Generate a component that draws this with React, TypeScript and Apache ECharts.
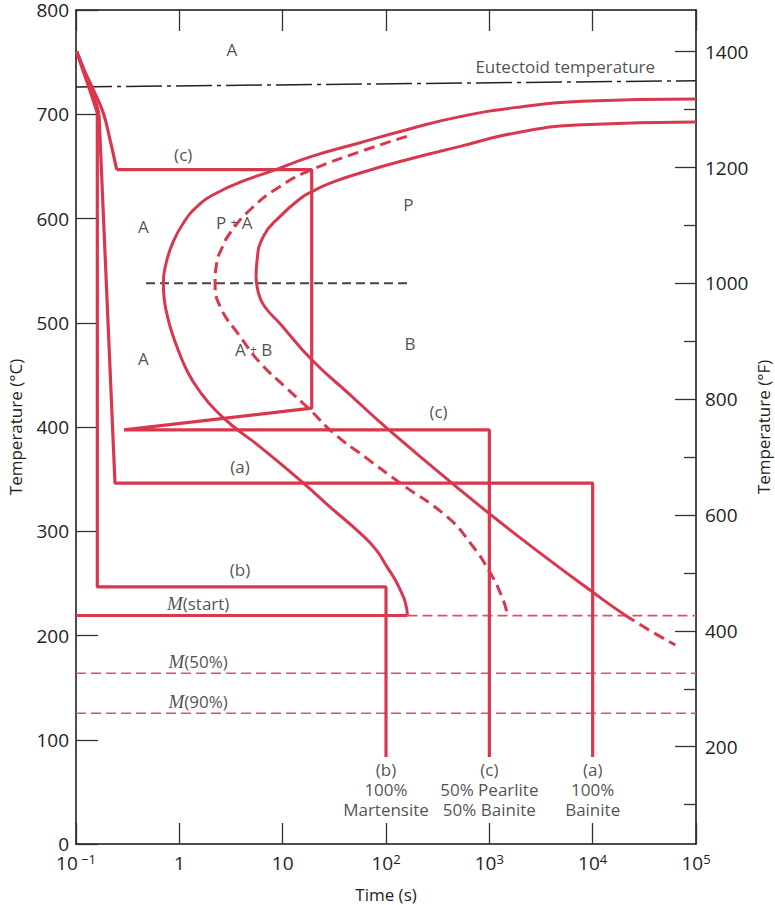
import React, { useEffect, useRef } from 'react';
import * as echarts from 'echarts';

// ---- data (time in s, temperature in °C) ----
const startCurve: [number, number][] = [
  [100000, 714.7], [7870, 712.4], [1991, 707.0], [522, 697.7], [159, 685.2], [56.2, 672.7],
  [19.1, 659.6], [7.56, 644.9], [4.5, 637.2], [2.3, 624.5], [1.52, 612.3], [1.094, 595.7],
  [0.85, 574.9], [0.7435, 556.6], [0.7, 538.1], [0.716, 522.1], [0.755, 509.3], [0.831, 493.3],
  [0.972, 474.1], [1.214, 452.0], [1.587, 433.8], [2.218, 416.5], [3.336, 400.5], [6.05, 381.0],
  [15.88, 346.2], [29.4, 322.5], [56.2, 298.2], [80.3, 282.1], [101.9, 266.1], [122.6, 253.4],
  [140.3, 241.8], [153.3, 232.2], [161.4, 219.8],
];
const finishCurve: [number, number][] = [
  [100000, 692.6], [7870, 690.0], [1781, 682.1], [522, 669.2], [159, 656.4], [56.2, 643.7],
  [28.8, 633.9], [19.14, 625.7], [14.75, 619.0], [9.44, 602.0], [6.51, 582.8], [5.62, 557.3],
  [5.53, 544.4], [5.785, 529.8], [6.61, 516.3], [9.45, 499.0], [19.1, 464.5], [45.0, 430.9],
  [101.9, 398.9], [434, 346.2], [1991, 293.7], [12680, 234.2], [20700, 219.5],
];
const finishTail: [number, number][] = [[20700, 219.5], [34800, 205.4], [63100, 191.0]];
const halfCurve: [number, number][] = [
  [159, 678.8], [56.2, 664.1], [19.1, 646.8], [9.44, 630.8], [4.84, 608.4], [3.1, 586.1],
  [2.593, 572.0], [2.3, 557.3], [2.22, 538.1], [2.48, 515.6], [3.87, 486.9], [6.05, 461.6],
  [10.56, 438.6], [18.4, 416.5], [30.8, 394.4], [64.3, 370.4], [137, 346.2], [388, 314.1],
  [653, 288.9], [1020, 260.1], [1361, 234.2], [1479, 221.7],
];
const coolCTop: [number, number][] = [[0.1016, 760.1], [0.1195, 742.8], [0.1419, 726.8], [0.1837, 701.2], [0.2134, 675.6], [0.2477, 646.8]];
const coolCPath: [number, number][] = [[0.2477, 646.8], [19.1, 646.8], [19.1, 418.1], [0.2916, 397.3], [1000, 397.3], [1000, 83.5]];
const coolATop: [number, number][] = [[0.1016, 760.1], [0.1169, 744.7], [0.1336, 728.4], [0.1528, 714.0], [0.167, 699.6]];
const coolAPath: [number, number][] = [[0.167, 699.6], [0.2385, 346.2], [10000, 346.2], [10000, 83.5]];
const coolBTop: [number, number][] = [[0.1016, 760.1], [0.1143, 744.7], [0.1306, 728.4], [0.1461, 714.0], [0.1608, 701.5]];
const coolBPath: [number, number][] = [[0.1608, 701.5], [0.1608, 246.6], [100, 246.6], [100, 83.5]];
const mStartSolid: [number, number][] = [[0.1, 219.1], [161.4, 219.1]];
const mStartDash: [number, number][] = [[161.4, 219.1], [100000, 219.1]];
const m50: [number, number][] = [[0.1, 163.8], [100000, 163.8]];
const m90: [number, number][] = [[0.1, 125.4], [100000, 125.4]];
const eutectoid: [number, number][] = [[0.1, 726.2], [100000, 732.2]];
const noseLine: [number, number][] = [[0.476, 538], [163.7, 538]];

const labelTexts = [
  'A', 'Eutectoid temperature', '(c)', 'P', 'A', 'P {s|+} A', 'A', 'A {s|+} B', 'B', '(c)',
  '(a)', '(b)', '{m|M}(start)', '{m|M}(50%)', '{m|M}(90%)',
  '(b)\n100%\nMartensite', '(c)\n50% Pearlite\n50% Bainite', '(a)\n100%\nBainite',
];
const labelTimes = [3.22, 5428, 1.09, 165, 0.448, 3.4, 0.448, 5.23, 171, 322, 3.87, 3.87, 1.52, 1.52, 1.52, 100, 1000, 10000];
const labelTemps = [762, 746, 661.2, 613.2, 592.4, 596.4, 466.1, 474.1, 480.5, 414.9, 362.1, 263, 230.3, 175.0, 136.6, 51.8, 51.8, 51.8];

const fTicksMajor = [200, 400, 600, 800, 1000, 1200, 1400];
const fTicksMinor = [100, 300, 500, 700, 900, 1100, 1300];

const RED = '#d9374d';
const RED_LIGHT = '#e05064';
const TEXT = '#231f20';
const FONT = '"Open Sans", "Noto Sans", sans-serif';

function line(data: [number, number][], color: string, width: number, type: any = 'solid', smooth: any = false, z = 2) {
  return {
    type: 'line', data, symbol: 'none', smooth, z, silent: true,
    lineStyle: { color, width, type },
  };
}

export default function App() {
  const ref = useRef<HTMLDivElement>(null);
  useEffect(() => {
    if (!ref.current) return;
    const chart = echarts.init(ref.current, undefined, { renderer: 'svg' });
    const axisLine = { show: true, lineStyle: { color: '#111', width: 1.5 } };
    const tickStyle = { color: '#333', width: 1.3 };
    const xFmt = (v: number) => {
      const e = Math.round(Math.log10(v));
      if (e === 0) return '1';
      if (e === 1) return '10';
      return '10{sup|' + (e < 0 ? ' \u2212' + -e : String(e)) + '}';
    };
    const option: any = {
      animation: false,
      backgroundColor: '#fff',
      textStyle: { fontFamily: FONT, color: TEXT },
      grid: { left: 76, right: 79, top: 10, bottom: 61, containLabel: false, outerBoundsMode: 'none' },
      xAxis: [
        {
          type: 'log', logBase: 10, min: 0.1, max: 100000, position: 'bottom',
          name: 'Time (s)', nameLocation: 'middle', nameGap: 42, nameMoveOverlap: false,
          nameTextStyle: { fontSize: 17, color: TEXT, fontFamily: FONT },
          axisLine, axisTick: { inside: true, length: 21, lineStyle: tickStyle },
          axisLabel: {
            margin: 8, fontSize: 19, color: TEXT, fontFamily: FONT, formatter: xFmt, lineHeight: 22,
            rich: { sup: { fontSize: 13, lineHeight: 13, verticalAlign: 'top', color: TEXT, fontFamily: FONT } },
          },
          splitLine: { show: false }, minorTick: { show: false },
        },
        {
          type: 'log', logBase: 10, min: 0.1, max: 100000, position: 'top',
          axisLine, axisTick: { inside: true, length: 21, lineStyle: tickStyle },
          axisLabel: { show: false }, splitLine: { show: false },
        },
      ],
      yAxis: [
        {
          type: 'value', min: 0, max: 800, interval: 100, position: 'left',
          name: 'Temperature (\u00b0C)', nameLocation: 'middle', nameRotate: 90, nameGap: 52, nameMoveOverlap: false,
          nameTextStyle: { fontSize: 17, color: TEXT, fontFamily: FONT },
          axisLine, axisTick: { inside: true, length: 22, lineStyle: tickStyle },
          axisLabel: { margin: 7, fontSize: 19, color: TEXT, fontFamily: FONT },
          splitLine: { show: false },
        },
        {
          type: 'value', min: 32, max: 1472, position: 'right',
          name: 'Temperature (\u00b0F)', nameLocation: 'middle', nameRotate: 90, nameGap: 59, nameMoveOverlap: false,
          nameTextStyle: { fontSize: 17, color: TEXT, fontFamily: FONT },
          axisLine, axisTick: { inside: true, length: 21, lineStyle: tickStyle, customValues: fTicksMajor },
          axisLabel: { margin: 9, fontSize: 19, color: TEXT, fontFamily: FONT, customValues: fTicksMajor, formatter: (v: number) => String(Math.round(v)) },
          splitLine: { show: false },
        },
        {
          type: 'value', min: 32, max: 1472, position: 'right',
          axisLine: { show: false },
          axisTick: { inside: true, length: 12, lineStyle: tickStyle, customValues: fTicksMinor },
          axisLabel: { show: false }, splitLine: { show: false },
        },
      ],
      series: [
        line(eutectoid, '#222', 1.5, [36, 5, 4, 5]),
        line(noseLine, '#444', 2, [9, 5]),
        line(m50, RED_LIGHT, 1.6, [10, 5]),
        line(m90, RED_LIGHT, 1.6, [10, 5]),
        line(mStartDash, RED_LIGHT, 1.6, [10, 5]),
        line(mStartSolid, RED, 3),
        line(startCurve, RED, 3, 'solid', 0.5, 3),
        line(finishCurve, RED, 3, 'solid', 0.5, 3),
        line(finishTail, RED, 3, [11, 6], 0.5, 3),
        line(halfCurve, RED, 3, [11, 6], 0.5, 3),
        line(coolCTop, RED, 3.2, 'solid', 0.4, 3),
        line(coolCPath, RED, 3.2, 'solid', false, 3),
        line(coolATop, RED, 3.2, 'solid', 0.4, 3),
        line(coolAPath, RED, 3.2, 'solid', false, 3),
        line(coolBTop, RED, 3.2, 'solid', 0.4, 3),
        line(coolBPath, RED, 3.2, 'solid', false, 3),
        {
          type: 'scatter', symbolSize: 1, silent: true, z: 5,
          itemStyle: { color: 'rgba(0,0,0,0)' },
          data: labelTexts.map((txt, i) => ({
            value: [labelTimes[i], labelTemps[i]],
            label: {
              show: true, position: 'inside', formatter: txt,
              fontSize: 17, lineHeight: 20, color: TEXT, fontFamily: FONT, align: 'center',
              rich: {
                m: { fontFamily: '"Liberation Serif", "DejaVu Serif", serif', fontStyle: 'italic', fontSize: 19, color: TEXT },
                s: { fontSize: 12, color: TEXT, fontFamily: FONT },
              },
            },
          })),
        },
      ],
    };
    chart.setOption(option);
    return () => chart.dispose();
  }, []);
  return <div ref={ref} style={{ position: 'fixed', left: 0, top: 0, width: 775, height: 905 }} />;
}
